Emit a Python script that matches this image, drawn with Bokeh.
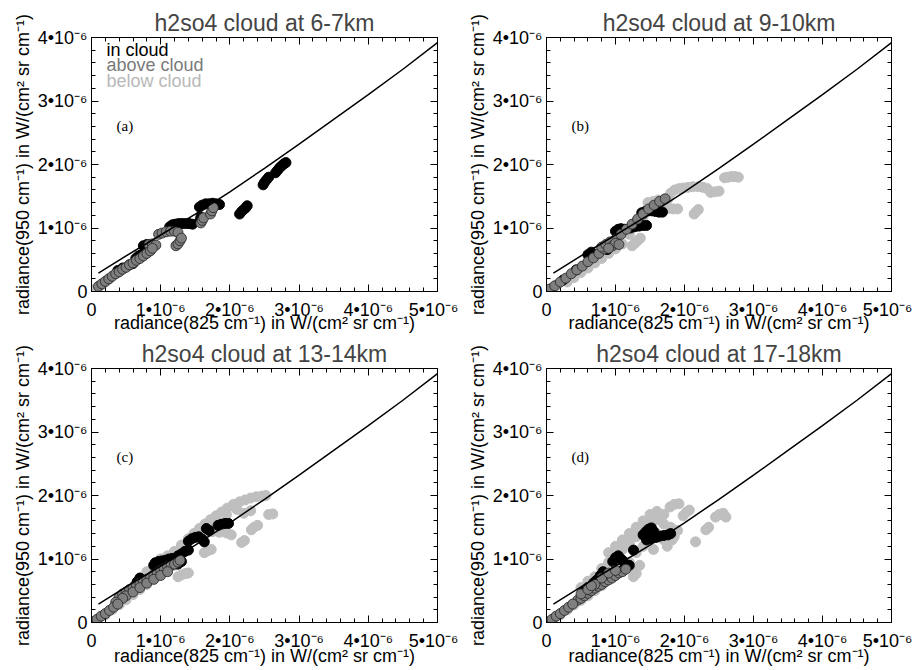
from bokeh.plotting import figure
from bokeh.layouts import column, row
from bokeh.models import (LinearAxis, Range1d, SingleIntervalTicker,
                          CustomJSTickFormatter, Label)
from bokeh.embed import file_html
from bokeh.resources import INLINE

UNIT = 1e-6  # all values below are in units of 1e-6 W/(cm^2 sr cm^-1)

TITLES = ["h2so4 cloud at 6-7km", "h2so4 cloud at 9-10km",
          "h2so4 cloud at 13-14km", "h2so4 cloud at 17-18km"]
TAGS = ["(a)", "(b)", "(c)", "(d)"]
X_TICK_LABELS = ["0", "1•10⁻⁶", "2•10⁻⁶", "3•10⁻⁶", "4•10⁻⁶", "5•10⁻⁶"]
Y_TICK_LABELS = ["0", "1•10⁻⁶", "2•10⁻⁶", "3•10⁻⁶", "4•10⁻⁶"]
X_LABEL = "radiance(825 cm⁻¹) in W/(cm² sr cm⁻¹)"
Y_LABEL = "radiance(950 cm⁻¹) in W/(cm² sr cm⁻¹)"
LEGEND = ["in cloud", "above cloud", "below cloud"]

# reference line (same in all panels)
LINE_X = [0.1, 0.5, 1.0, 1.5, 2.0, 2.5, 3.0, 3.5, 4.0, 4.5, 5.0]
LINE_Y = [0.29, 0.56, 0.89, 1.22, 1.57, 1.94, 2.32, 2.71, 3.10, 3.50, 3.92]

# ---------- panel (a) 6-7 km ----------
A_IN_X = [2.66, 2.69, 2.72, 2.75, 2.78, 2.81, 2.48, 2.50, 2.53, 2.56,
          2.14, 2.17, 2.20, 2.23, 2.25, 1.56, 1.60, 1.65, 1.70, 1.75, 1.80, 1.85,
          1.57, 1.58, 1.13, 1.17, 1.21, 1.26, 1.31, 1.36, 1.41, 1.46,
          0.75, 0.80, 0.64, 0.68, 0.72, 0.55, 0.60, 0.38, 0.45]
A_IN_Y = [1.87, 1.91, 1.95, 1.98, 2.01, 2.03, 1.68, 1.72, 1.76, 1.80,
          1.22, 1.26, 1.29, 1.32, 1.35, 1.33, 1.36, 1.38, 1.38, 1.39, 1.38, 1.37,
          1.12, 1.17, 1.02, 1.05, 1.06, 1.07, 1.07, 1.07, 1.07, 1.06,
          0.72, 0.74, 0.52, 0.56, 0.58, 0.42, 0.44, 0.33, 0.37]
A_ABOVE_X = [0.97, 1.02, 1.08, 1.14, 1.20, 1.25, 1.22, 1.25, 1.28, 1.30,
             1.58, 1.60, 1.62, 1.72, 1.74, 1.76, 0.83, 0.88, 0.93,
             0.10, 0.15, 0.20, 0.25, 0.30, 0.35, 0.40, 0.45, 0.50, 0.55,
             0.60, 0.65, 0.70, 0.75, 0.80, 0.85, 0.88]
A_ABOVE_Y = [0.90, 0.92, 0.94, 0.95, 0.95, 0.93, 0.72, 0.75, 0.80, 0.84,
             1.08, 1.12, 1.16, 1.22, 1.27, 1.32, 0.74, 0.75, 0.73,
             0.08, 0.12, 0.16, 0.20, 0.24, 0.28, 0.31, 0.35, 0.38, 0.42,
             0.45, 0.49, 0.52, 0.56, 0.60, 0.64, 0.68]
A_BELOW_X = [0.00, 0.03, 0.06, 0.09, 0.12, 0.15, 0.20, 0.25]
A_BELOW_Y = [0.00, 0.02, 0.04, 0.07, 0.09, 0.11, 0.15, 0.19]

# ---------- panel (b) 9-10 km ----------
B_IN_X = [1.38, 1.43, 1.48, 1.53, 1.58, 1.63, 1.68, 1.00, 1.04, 1.08, 1.13,
          1.22, 1.28, 1.34, 1.40, 1.45, 0.88, 0.92, 0.96, 1.00,
          0.60, 0.65, 0.43, 0.24]
B_IN_Y = [1.24, 1.26, 1.27, 1.27, 1.26, 1.25, 1.25, 0.95, 0.98, 0.99, 0.98,
          1.00, 1.02, 1.03, 1.04, 1.04, 0.66, 0.72, 0.77, 0.81,
          0.58, 0.62, 0.34, 0.18]
B_ABOVE_X = [0.05, 0.12, 0.20, 0.28, 0.36, 0.44, 0.52, 0.60, 0.68, 0.76, 0.84,
             0.92, 1.00, 1.08, 1.16, 1.24, 1.32, 1.40, 1.48, 1.56, 1.64, 1.72,
             0.80, 0.86, 0.92, 0.96, 1.00, 1.05, 0.90]
B_ABOVE_Y = [0.04, 0.09, 0.15, 0.21, 0.28, 0.34, 0.40, 0.47, 0.53, 0.60, 0.67,
             0.74, 0.82, 0.90, 0.98, 1.06, 1.14, 1.22, 1.30, 1.36, 1.42, 1.46,
             0.70, 0.74, 0.78, 0.72, 0.76, 0.74, 0.68]
B_BELOW_X = [2.58, 2.63, 2.68, 2.73, 2.78, 1.80, 1.86, 1.92, 1.98, 2.05, 2.12,
             2.20, 2.27, 2.33, 2.38, 2.44, 2.50, 2.14, 2.17, 2.20,
             1.66, 1.72, 1.78, 1.84, 1.90, 1.47, 1.55, 1.62, 1.70, 1.76,
             1.24, 1.28, 1.32, 1.36,
             0.02, 0.08, 0.15, 0.30, 0.40, 0.50, 0.60, 0.70, 0.80, 0.90,
             1.00, 1.10, 1.20, 1.30, 1.40, 1.50]
B_BELOW_Y = [1.79, 1.80, 1.81, 1.81, 1.80, 1.55, 1.60, 1.62, 1.63, 1.64, 1.65,
             1.65, 1.64, 1.62, 1.56, 1.57, 1.58, 1.22, 1.26, 1.29,
             1.30, 1.31, 1.31, 1.30, 1.30, 1.40, 1.42, 1.44, 1.45, 1.46,
             0.72, 0.76, 0.80, 0.84,
             0.01, 0.05, 0.10, 0.15, 0.22, 0.30, 0.37, 0.45, 0.52, 0.60,
             0.67, 0.75, 0.90, 1.05, 1.18, 1.30]

# ---------- panel (c) 13-14 km ----------
C_IN_X = [1.83, 1.88, 1.93, 1.98, 1.66, 1.70, 1.40, 1.45, 1.50, 1.55, 1.60, 1.63,
          1.25, 1.30, 1.35, 1.40, 0.92, 0.97, 1.02, 1.07, 1.12, 1.17,
          0.90, 0.95, 1.25, 1.30, 0.63, 0.66, 0.70]
C_IN_Y = [1.53, 1.55, 1.56, 1.56, 1.48, 1.45, 1.28, 1.32, 1.34, 1.35, 1.31, 1.27,
          1.05, 1.08, 1.12, 1.14, 0.94, 0.96, 0.97, 0.98, 1.00, 1.01,
          0.90, 0.88, 0.92, 0.96, 0.58, 0.64, 0.70]
C_ABOVE_X = [0.40, 0.45, 0.50, 0.55, 0.60, 0.65, 0.70, 0.75, 0.80, 0.85, 0.90,
             0.95, 1.00, 1.05, 1.10, 1.15, 1.20, 1.25, 1.28, 0.50, 0.60, 0.70,
             0.80, 0.90, 1.00, 1.10, 0.45, 0.35,
             0.02, 0.08, 0.14, 0.20, 0.26, 0.32, 0.38]
C_ABOVE_Y = [0.40, 0.45, 0.48, 0.52, 0.55, 0.58, 0.62, 0.64, 0.68, 0.70, 0.75,
             0.78, 0.82, 0.85, 0.88, 0.90, 0.92, 0.95, 0.98, 0.42, 0.48, 0.55,
             0.62, 0.68, 0.74, 0.80, 0.38, 0.32,
             0.01, 0.05, 0.10, 0.14, 0.19, 0.24, 0.29]
C_BELOW_X = [1.30, 1.40, 1.48, 1.56, 1.64, 1.72, 1.80, 1.88, 1.96, 2.05, 2.14,
             2.22, 2.30, 2.38, 2.46, 2.52, 2.10, 2.20, 2.30, 1.95, 1.75, 1.60,
             2.56, 2.62, 2.31, 2.35, 2.40, 2.17, 2.21,
             1.55, 1.65, 1.75, 1.85, 1.95, 2.02, 1.63, 1.68, 1.73,
             1.25, 1.30, 1.36, 1.40,
             0.02, 0.10, 0.20, 0.30, 0.40, 0.50, 0.60, 0.70, 0.80, 0.90,
             1.00, 1.10, 1.20, 0.70, 0.80, 0.90, 1.00, 1.10, 1.20]
C_BELOW_Y = [1.22, 1.32, 1.40, 1.48, 1.55, 1.62, 1.68, 1.74, 1.80, 1.86, 1.90,
             1.93, 1.96, 1.98, 1.99, 2.00, 1.78, 1.72, 1.76, 1.70, 1.58, 1.42,
             1.70, 1.71, 1.46, 1.50, 1.53, 1.26, 1.29,
             1.40, 1.42, 1.43, 1.42, 1.41, 1.38, 1.10, 1.13, 1.15,
             0.72, 0.75, 0.77, 0.78,
             0.01, 0.06, 0.12, 0.20, 0.28, 0.36, 0.44, 0.52, 0.60, 0.68,
             0.76, 0.84, 0.90, 0.70, 0.80, 0.90, 1.00, 1.05, 1.12]

# ---------- panel (d) 17-18 km ----------
D_IN_X = [1.40, 1.44, 1.48, 1.52, 1.55, 1.59, 1.64, 1.70, 1.76, 1.80, 1.45, 1.50,
          1.26, 0.96, 1.00, 1.04, 1.08, 1.11, 1.12, 1.16, 1.20, 0.82, 0.78,
          0.68, 0.72, 0.76, 0.55, 0.60]
D_IN_Y = [1.38, 1.43, 1.47, 1.49, 1.44, 1.34, 1.36, 1.37, 1.38, 1.40, 1.30, 1.32,
          1.14, 0.96, 1.02, 1.05, 1.00, 0.97, 0.84, 0.88, 0.90, 0.80, 0.74,
          0.62, 0.66, 0.70, 0.50, 0.55]
D_ABOVE_X = [0.45, 0.50, 0.55, 0.60, 0.65, 0.70, 0.75, 0.80, 0.85, 0.90, 0.95,
             1.00, 1.05, 1.10, 1.15, 0.50, 0.60, 0.70, 0.80, 0.90, 1.00, 0.65,
             0.02, 0.08, 0.14, 0.20, 0.26, 0.32, 0.38]
D_ABOVE_Y = [0.35, 0.38, 0.42, 0.46, 0.50, 0.54, 0.57, 0.60, 0.64, 0.67, 0.70,
             0.74, 0.78, 0.80, 0.84, 0.45, 0.52, 0.60, 0.70, 0.78, 0.82, 0.58,
             0.01, 0.05, 0.10, 0.14, 0.19, 0.24, 0.29]
D_BELOW_X = [1.79, 1.85, 1.92, 2.45, 2.50, 2.56, 2.60, 2.31, 2.35, 2.16,
             1.98, 2.03, 2.07, 1.26, 1.30,
             0.50, 0.60, 0.70, 0.80, 0.90, 1.00, 1.10, 1.20, 1.30, 1.40, 1.50,
             1.60, 1.70, 0.90, 1.00, 1.10, 1.20, 1.30, 1.40, 1.50, 1.60, 1.70,
             1.80, 1.90, 1.60, 1.50, 1.40, 1.30, 1.20, 1.10, 1.00, 0.80, 1.35,
             1.25, 1.55, 1.70, 1.85, 1.75, 1.82,
             0.10, 0.20, 0.30, 0.40, 0.50, 0.60, 0.70, 0.80]
D_BELOW_Y = [1.82, 1.86, 1.87, 1.66, 1.70, 1.72, 1.66, 1.46, 1.50, 1.27,
             1.68, 1.74, 1.77, 0.72, 0.77,
             0.55, 0.65, 0.72, 0.85, 0.95, 1.05, 1.15, 1.25, 1.35, 1.45, 1.55,
             1.62, 1.70, 1.10, 1.20, 1.30, 1.40, 1.50, 1.60, 1.70, 1.75, 1.55,
             1.50, 1.45, 1.40, 1.30, 1.20, 1.10, 0.95, 0.85, 0.80, 0.70, 0.90,
             0.85, 1.15, 1.30, 1.35, 1.20, 1.30,
             0.05, 0.12, 0.20, 0.28, 0.35, 0.42, 0.50, 0.58]

PANELS = [
    (A_IN_X, A_IN_Y, A_ABOVE_X, A_ABOVE_Y, A_BELOW_X, A_BELOW_Y),
    (B_IN_X, B_IN_Y, B_ABOVE_X, B_ABOVE_Y, B_BELOW_X, B_BELOW_Y),
    (C_IN_X, C_IN_Y, C_ABOVE_X, C_ABOVE_Y, C_BELOW_X, C_BELOW_Y),
    (D_IN_X, D_IN_Y, D_ABOVE_X, D_ABOVE_Y, D_BELOW_X, D_BELOW_Y),
]

FONT = "Liberation Sans"
COL_IN = "#000000"
COL_ABOVE = "#7f7f7f"
COL_BELOW = "#bfbfbf"


def scaled(v):
    return [a * UNIT for a in v]


def style_axis(ax, labels, show_labels):
    ax.ticker = SingleIntervalTicker(interval=UNIT, num_minor_ticks=5)
    ax.formatter = CustomJSTickFormatter(args=dict(labels=labels), code="""
        const i = Math.round(tick / 1e-6);
        return (i >= 0 && i < labels.length) ? labels[i] : "";
    """)
    ax.major_tick_in = 7
    ax.major_tick_out = 0
    ax.minor_tick_in = 4
    ax.minor_tick_out = 0
    ax.major_tick_line_color = "black"
    ax.minor_tick_line_color = "black"
    ax.axis_line_color = "black"
    ax.major_label_text_font = FONT
    ax.major_label_text_font_size = "18px"
    ax.axis_label_text_font = FONT
    ax.axis_label_text_font_style = "normal"
    ax.axis_label_text_font_size = "18px"
    ax.axis_label_text_color = "black"
    if show_labels:
        ax.major_label_text_color = "black"
    else:
        ax.major_label_text_color = None
        ax.major_label_standoff = 0
        ax.axis_label_standoff = 0


def make_panel(i):
    left = (i % 2 == 0)
    top = (i < 2)
    in_x, in_y, ab_x, ab_y, be_x, be_y = PANELS[i]
    p = figure(width=458 if left else 454, height=335 if top else 333,
               output_backend="svg", toolbar_location=None,
               x_range=Range1d(0, 5 * UNIT), y_range=Range1d(0, 4 * UNIT),
               min_border_left=91 if left else 88,
               min_border_right=21,
               min_border_top=37 if top else 33,
               min_border_bottom=43 if top else 46,
               background_fill_color="white", border_fill_color="white")
    p.grid.visible = False
    p.outline_line_color = "black"
    p.outline_line_width = 1
    p.title.text = TITLES[i]
    p.title.align = "center"
    p.title.text_font = FONT
    p.title.text_font_style = "normal"
    p.title.text_font_size = "23px"
    p.title.standoff = 4

    style_axis(p.xaxis[0], X_TICK_LABELS, True)
    style_axis(p.yaxis[0], Y_TICK_LABELS, True)
    p.xaxis[0].axis_label = X_LABEL
    p.yaxis[0].axis_label = Y_LABEL
    p.xaxis[0].major_label_standoff = 8
    p.xaxis[0].axis_label_standoff = -10 if top else -8
    p.yaxis[0].major_label_standoff = 4
    p.yaxis[0].axis_label_standoff = 2

    ax_top = LinearAxis()
    style_axis(ax_top, X_TICK_LABELS, False)
    p.add_layout(ax_top, "above")
    ax_right = LinearAxis()
    style_axis(ax_right, Y_TICK_LABELS, False)
    p.add_layout(ax_right, "right")

    p.scatter(scaled(be_x), scaled(be_y), size=10, marker="circle",
              fill_color=COL_BELOW, line_color=COL_BELOW, line_width=1)
    p.scatter(scaled(in_x), scaled(in_y), size=10, marker="circle",
              fill_color=COL_IN, line_color=COL_IN, line_width=1)
    p.scatter(scaled(ab_x), scaled(ab_y), size=10, marker="circle",
              fill_color=COL_ABOVE, line_color="#222222", line_width=0.8)
    p.line(scaled(LINE_X), scaled(LINE_Y), line_color="black", line_width=1.5)

    p.add_layout(Label(x=25, y=166, x_units="screen", y_units="screen",
                       text=TAGS[i], text_font="Liberation Serif",
                       text_font_size="15px", text_baseline="middle",
                       text_color="black"))
    if i == 0:
        for k, (txt, col) in enumerate(zip(LEGEND, [COL_IN, "#7a7a7a", "#b8b8b8"])):
            p.add_layout(Label(x=15, y=242 - 15.5 * k, x_units="screen",
                               y_units="screen", text=txt, text_font=FONT,
                               text_font_size="18px", text_baseline="middle",
                               text_color=col))
    return p


figs = [make_panel(i) for i in range(4)]
layout = column(row(figs[0], figs[1]), row(figs[2], figs[3]))

open("out.html", "w").write(file_html(layout, INLINE))
